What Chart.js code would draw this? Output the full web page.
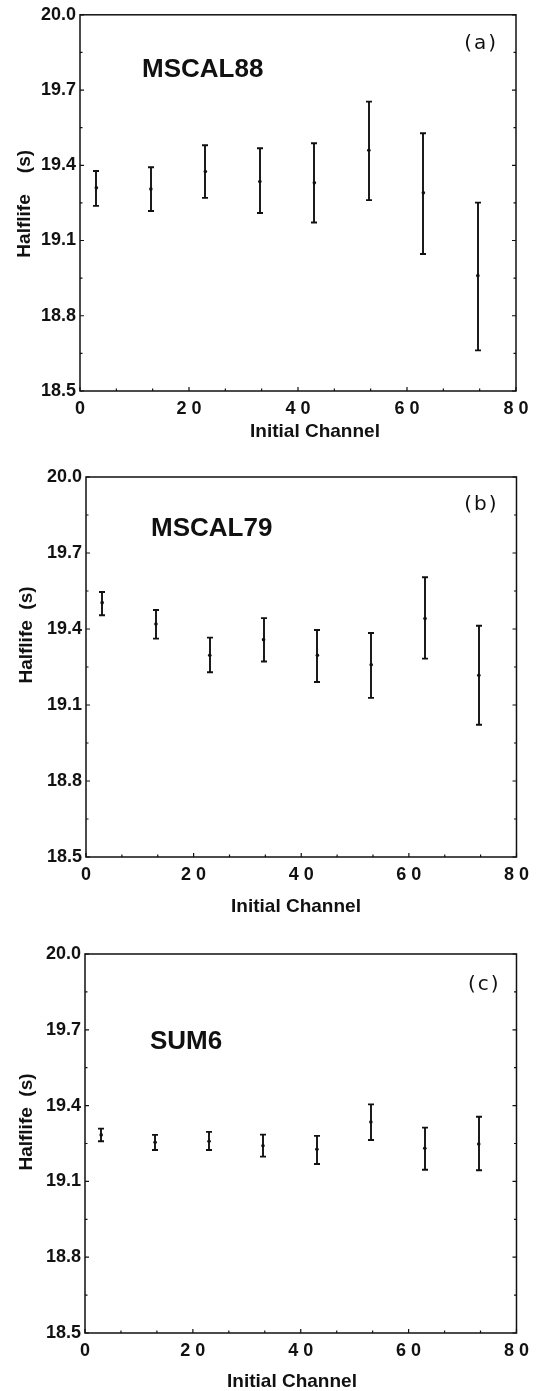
<!DOCTYPE html>
<html>
<head>
<meta charset="utf-8">
<script src="https://cdn.jsdelivr.net/npm/chart.js@4.4.1/dist/chart.umd.min.js"></script>
<style>
  body{margin:0;background:#fff;}
  canvas.panel{position:absolute;left:0;}
</style>
</head>
<body>
<canvas id="chartA" class="panel" width="536" height="460" style="top:0px"></canvas>
<canvas id="chartB" class="panel" width="536" height="460" style="top:460px"></canvas>
<canvas id="chartC" class="panel" width="536" height="471" style="top:920px"></canvas>
<script>
// initial channel of each fit
var channels = [3, 13, 23, 33, 43, 53, 63, 73];
// axis ticks
var xTicks = [0, 20, 40, 60, 80];
var xMinor = [6.67, 13.33, 26.67, 33.33, 46.67, 53.33, 66.67, 73.33];
var yTicks = [18.5, 18.8, 19.1, 19.4, 19.7, 20.0];
var yMinor = [18.65, 18.95, 19.25, 19.55, 19.85];

// (a) MSCAL88 halflife, lower and upper end of error bar
var mscal88 = [19.31, 19.305, 19.375, 19.335, 19.33, 19.46, 19.29, 18.96];
var mscal88Lo = [19.238, 19.218, 19.27, 19.21, 19.172, 19.261, 19.046, 18.662];
var mscal88Hi = [19.377, 19.392, 19.48, 19.468, 19.488, 19.654, 19.528, 19.251];
// (b) MSCAL79
var mscal79 = [19.504, 19.42, 19.296, 19.358, 19.296, 19.259, 19.441, 19.217];
var mscal79Lo = [19.454, 19.362, 19.229, 19.272, 19.191, 19.128, 19.283, 19.022];
var mscal79Hi = [19.546, 19.475, 19.366, 19.443, 19.396, 19.384, 19.604, 19.413];
// (c) SUM6
var sum6 = [19.284, 19.255, 19.259, 19.241, 19.227, 19.335, 19.231, 19.248];
var sum6Lo = [19.259, 19.224, 19.224, 19.198, 19.169, 19.264, 19.146, 19.144];
var sum6Hi = [19.309, 19.284, 19.296, 19.285, 19.28, 19.405, 19.313, 19.356];

Chart.defaults.font.family = '"Liberation Sans", Arial, Helvetica, sans-serif';
Chart.defaults.color = '#111';
var INK = '#111';

//draws error bars with caps on top of the points
var errorBars = {
  id: 'errorBars',
  afterDatasetsDraw: function(chart, args, opts){
    var ctx = chart.ctx, xs = chart.scales.x, ys = chart.scales.y;
    ctx.save();
    ctx.strokeStyle = INK;
    ctx.lineWidth = 1.9;
    for(var i=0;i<channels.length;i++){
      var x = Math.round(xs.getPixelForValue(channels[i]));
      var top = ys.getPixelForValue(opts.hi[i]);
      var bot = ys.getPixelForValue(opts.lo[i]);
      ctx.beginPath();
      ctx.moveTo(x, top); ctx.lineTo(x, bot);
      ctx.moveTo(x-3, top); ctx.lineTo(x+3, top);
      ctx.moveTo(x-3, bot); ctx.lineTo(x+3, bot);
      ctx.stroke();
    }
    ctx.restore();
  }
};

//box round the plot, inward ticks and the text labels
var frame = {
  id: 'frame',
  afterDraw: function(chart, args, opts){
    var ctx = chart.ctx, a = chart.chartArea;
    var xs = chart.scales.x, ys = chart.scales.y;
    ctx.save();
    ctx.strokeStyle = INK;
    ctx.lineWidth = 1.5;
    ctx.strokeRect(a.left, a.top, a.right-a.left, a.bottom-a.top);
    ctx.lineWidth = 1.2;
    ctx.beginPath();
    function yTick(v, len){
      var y = ys.getPixelForValue(v);
      ctx.moveTo(a.left, y); ctx.lineTo(a.left+len, y);
      ctx.moveTo(a.right, y); ctx.lineTo(a.right-len, y);
    }
    function xTick(v, len){
      var x = xs.getPixelForValue(v);
      ctx.moveTo(x, a.bottom); ctx.lineTo(x, a.bottom-len);
    }
    yTicks.forEach(function(v){ yTick(v, 4); });
    yMinor.forEach(function(v){ yTick(v, 2.5); });
    xTicks.forEach(function(v){ xTick(v, 4); });
    xMinor.forEach(function(v){ xTick(v, 2.5); });
    ctx.stroke();

    ctx.fillStyle = INK;
    //series name
    ctx.font = 'bold 26px "Liberation Sans", Arial, sans-serif';
    ctx.textAlign = 'left';
    ctx.textBaseline = 'alphabetic';
    ctx.fillText(opts.name, a.left + opts.nameX, a.top + opts.nameY);
    //panel tag (a) (b) (c)
    ctx.font = '20px "DejaVu Sans", sans-serif';
    ctx.letterSpacing = '2px';
    ctx.textAlign = 'right';
    ctx.textBaseline = 'middle';
    ctx.fillText(opts.tag, a.right - opts.tagX, a.top + opts.tagY);
    ctx.letterSpacing = '0px';
    //x axis title
    ctx.font = 'bold 19px "Liberation Sans", Arial, sans-serif';
    ctx.textAlign = 'center';
    ctx.textBaseline = 'alphabetic';
    ctx.fillText('Initial Channel', a.left + opts.xTitleX, a.bottom + opts.xTitleY);
    //y axis title, rotated
    ctx.translate(opts.yTitleX, a.top + opts.yTitleY);
    ctx.rotate(-Math.PI/2);
    ctx.font = 'bold 19px "Liberation Sans", Arial, sans-serif';
    ctx.textBaseline = 'middle';
    ctx.fillText(opts.yTitle, 0, 0);
    ctx.restore();
  }
};

function makePanel(id, vals, lo, hi, area, text){
  var canvas = document.getElementById(id);
  var H = canvas.height;
  return new Chart(canvas, {
    type: 'scatter',
    data: {
      datasets: [{
        data: channels.map(function(c, i){ return {x: c, y: vals[i]}; }),
        pointRadius: 1.8,
        pointBackgroundColor: INK,
        pointBorderWidth: 0
      }]
    },
    options: {
      responsive: false,
      animation: false,
      devicePixelRatio: 1,
      layout: {padding: {top: area.T, right: 536 - area.R, left: 0, bottom: 0}},
      plugins: {
        legend: {display: false},
        tooltip: {enabled: false},
        errorBars: {lo: lo, hi: hi},
        frame: text
      },
      scales: {
        x: {
          type: 'linear', min: 0, max: 80,
          grid: {display: false, drawTicks: false},
          border: {display: false},
          afterBuildTicks: function(s){ s.ticks = xTicks.map(function(v){ return {value: v}; }); },
          afterFit: function(s){ s.height = H - area.B; },
          ticks: {
            padding: 7,
            maxRotation: 0,
            font: {size: 18, weight: 'bold'},
            callback: function(v){ return String(v).split('').join(' '); } //spaced digits
          }
        },
        y: {
          type: 'linear', min: 18.5, max: 20.0,
          grid: {display: false, drawTicks: false},
          border: {display: false},
          afterBuildTicks: function(s){ s.ticks = yTicks.map(function(v){ return {value: v}; }); },
          afterFit: function(s){ s.width = area.L; },
          ticks: {
            padding: 4,
            font: {size: 18, weight: 'bold'},
            callback: function(v){ return v.toFixed(1); }
          }
        }
      }
    },
    plugins: [errorBars, frame]
  });
}

makePanel('chartA', mscal88, mscal88Lo, mscal88Hi,
  {L: 80, R: 516, T: 12, B: 391},
  {name: 'MSCAL88', nameX: 62, nameY: 62, tag: '(a)', tagX: 18, tagY: 29,
   xTitleX: 235, xTitleY: 46, yTitle: 'Halflife    (s)', yTitleX: 25, yTitleY: 189});
makePanel('chartB', mscal79, mscal79Lo, mscal79Hi,
  {L: 86, R: 521, T: 17, B: 397},
  {name: 'MSCAL79', nameX: 65, nameY: 59, tag: '(b)', tagX: 18, tagY: 28,
   xTitleX: 210, xTitleY: 55, yTitle: 'Halflife  (s)', yTitleX: 27, yTitleY: 158});
makePanel('chartC', sum6, sum6Lo, sum6Hi,
  {L: 85, R: 518, T: 34, B: 413},
  {name: 'SUM6', nameX: 65, nameY: 95, tag: '(c)', tagX: 16, tagY: 31,
   xTitleX: 207, xTitleY: 54, yTitle: 'Halflife  (s)', yTitleX: 27, yTitleY: 168});
</script>
</body>
</html>
